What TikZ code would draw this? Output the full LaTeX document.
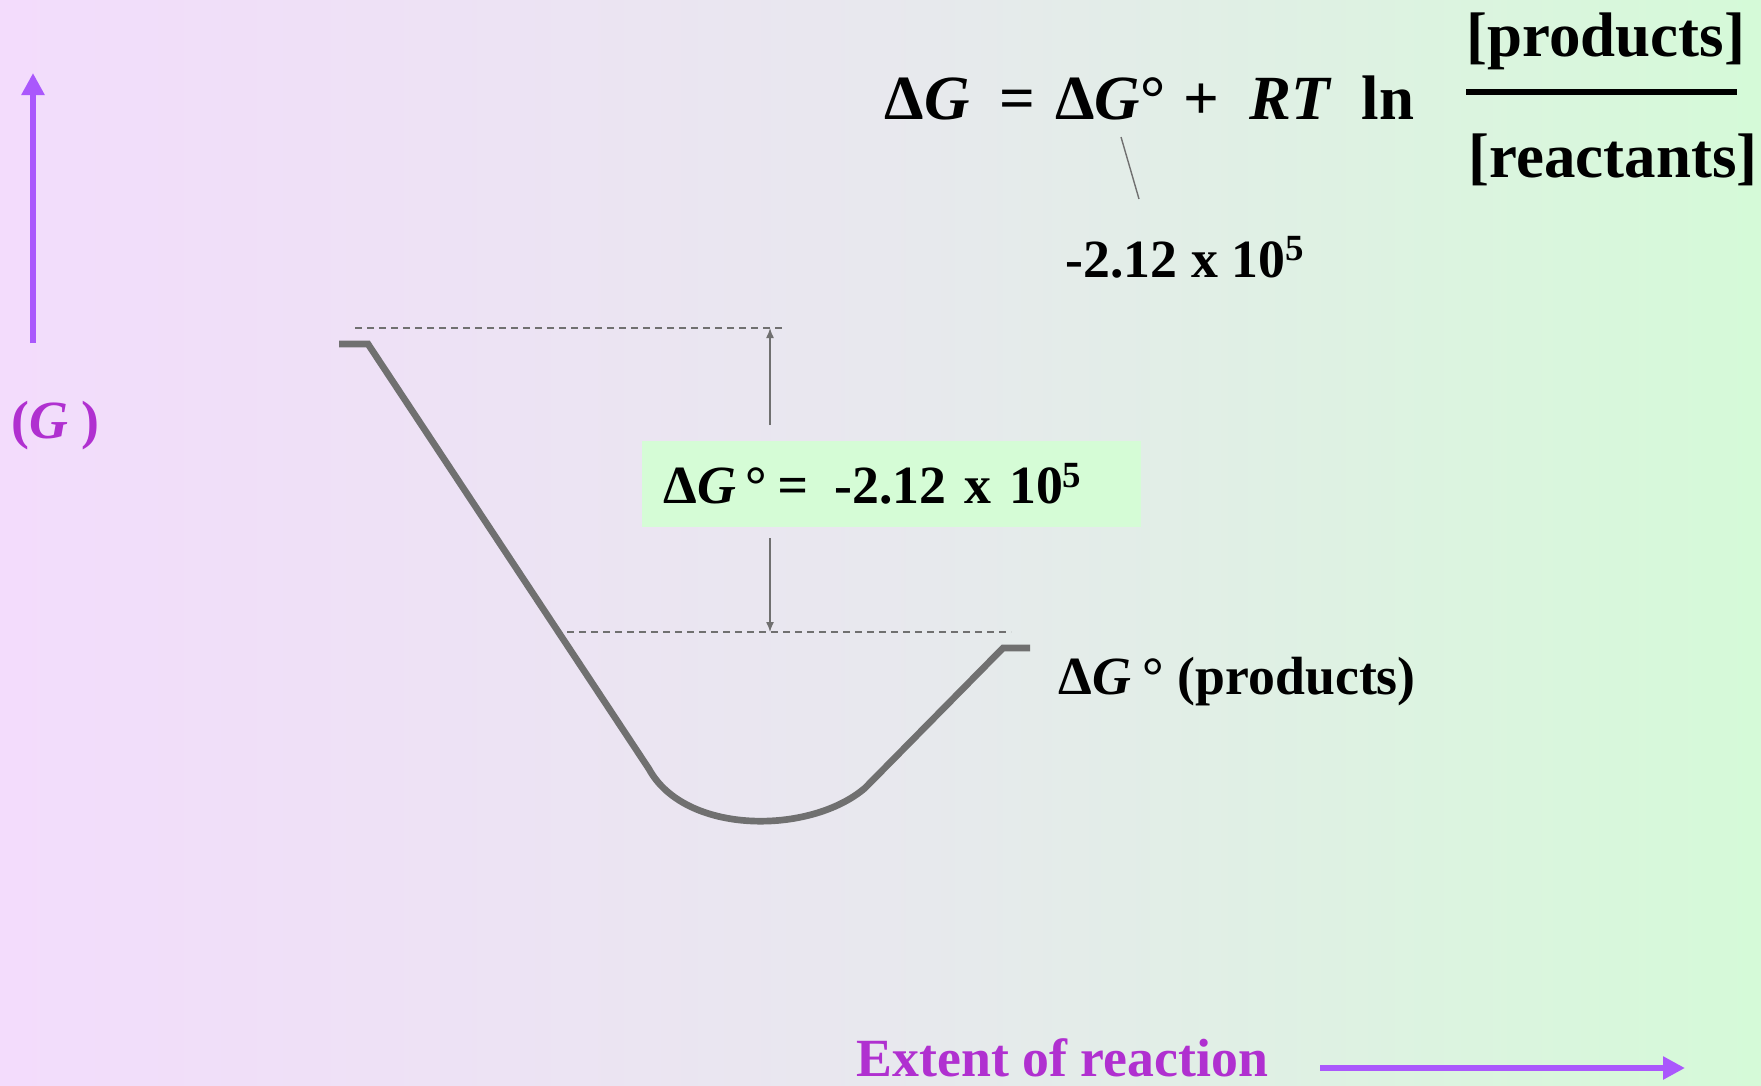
\documentclass[tikz,border=0pt]{standalone}
\usepackage{fontspec}
\setmainfont{Liberation Serif}
\usepackage{xcolor}
\usepackage{tikz}
\usetikzlibrary{arrows.meta, calc, positioning}
\definecolor{myviolet}{RGB}{170,88,252}
\definecolor{mypurple}{RGB}{176,48,208}
\definecolor{mygray}{RGB}{112,112,112}
\definecolor{mygreen}{RGB}{213,252,214}
\definecolor{bgleft}{RGB}{243,220,252}
\definecolor{bgmid}{RGB}{232,232,238}
\definecolor{bgright}{RGB}{213,250,216}
\newcommand{\eqsize}{\fontsize{17.9}{20}\selectfont}
\newcommand{\lblsize}{\fontsize{15.3}{18}\selectfont}
\newcommand{\expo}[1]{\raisebox{0.3em}{\fontsize{10.5}{11}\selectfont #1}}
\tikzstyle{gaxis} = [line width=0.6mm, myviolet, -{Triangle[length=2.2mm,width=2.2mm]}]
\tikzstyle{levelline} = [mygray, line width=0.35pt, dash pattern=on 0.7mm off 0.5mm]
\tikzstyle{dimarrow} = [mygray, line width=0.4pt, -{Latex[length=1mm,width=0.8mm]}]

\begin{document}
\begin{tikzpicture}[lbl/.style={inner sep=0pt, anchor=base west, font=\lblsize\bfseries}, eq/.style={inner sep=0pt, anchor=base west, font=\eqsize\bfseries}]
    \shade[left color=bgleft, right color=bgright, middle color=bgmid] (0,0) rectangle (17.61,-10.85);
    \useasboundingbox (0,0) rectangle (17.61,-10.85);
    % axes
    \coordinate (gbot) at (0.33,-3.43);
    \coordinate (gtop) at (0.33,-0.73);
    \draw[gaxis] (gbot) -- (gtop);
    \node[lbl, text=mypurple] (glabel) at (0.11,-4.38) {(\textit{G} )};
    \node[lbl, text=mypurple] (extent) at (8.56,-10.76) {Extent of reaction};
    \coordinate (xstart) at (13.20,-10.68);
    \coordinate (xend) at (16.85,-10.68);
    \draw[gaxis] (xstart) -- (xend);
    % free energy curve
    \draw[mygray, line width=1.9pt] (3.39,-3.44) -- (3.68,-3.44) -- (6.49,-7.69)
        .. controls (6.85,-8.35) and (8.10,-8.35) .. (8.65,-7.88) -- (10.03,-6.48) -- (10.30,-6.48);
    \coordinate (dtop) at (7.70,-3.28);
    \coordinate (dbot) at (7.70,-6.32);
    \draw[levelline] (3.55,-3.28) -- (7.83,-3.28);
    \draw[levelline] (5.67,-6.32) -- (10.11,-6.32);
    \node[anchor=north west, fill=mygreen, font=\lblsize\bfseries, text width=4.55cm, inner xsep=0.22cm, inner ysep=0pt, minimum height=0.86cm, align=left] (dgbox) at (6.41,-4.40) {Δ\textit{G}\hspace{0.9mm}°\hspace{1.1mm}\textit{=}\hspace{2.6mm}-2.12 x 10\expo{5}};
    \draw[dimarrow] ($(dgbox.north -| dtop)+(0,0.15)$) -- (dtop);
    \draw[dimarrow] ($(dgbox.south -| dbot)+(0,-0.11)$) -- (dbot);
    \node[lbl] (prodlabel) at (10.58,-6.94) {Δ\textit{G}\hspace{1.1mm}°\hspace{1.4mm}(products)};
    % equation
    \node[eq] (eqn) at (8.84,-1.19) {Δ\textit{G}\hspace{3mm}=\hspace{2mm}Δ\textit{G}°\hspace{1.8mm}+\hspace{3mm}\textit{RT}\hspace{3mm}ln};
    \node[eq] (num) at (14.66,-0.56) {[products]};
    \node[eq] (den) at (14.68,-1.77) {[reactants]};
    \coordinate (barleft) at (14.66,-0.92);
    \coordinate (barright) at (17.37,-0.92);
    \draw[line width=0.6mm] (barleft) -- (barright);
    \coordinate (lead1) at (11.21,-1.37);
    \coordinate (lead2) at (11.39,-1.99);
    \draw[mygray, line width=0.4pt] (lead1) -- (lead2);
    \node[lbl] (dgval) at (10.65,-2.77) {-2.12 x 10\expo{5}};
\end{tikzpicture}
\end{document}
